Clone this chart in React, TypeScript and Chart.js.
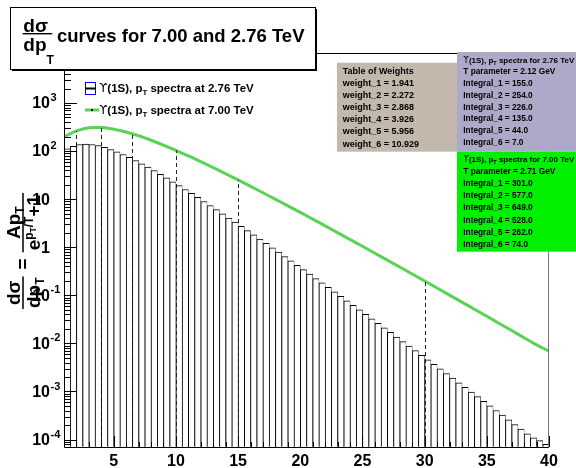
import { useEffect, useRef } from "react";
import { Chart, registerables } from "chart.js";

Chart.register(...registerables);

const FONT = '"Liberation Sans", Arial, Helvetica, sans-serif';
const SYM = '"DejaVu Sans", "Liberation Sans", sans-serif';

// Histogram binning for the 2.76 TeV spectrum (pT in GeV)
const binStart = 1;
const binWidth = 0.5;
const spectrum276 = [
  112, 126, 137, 140, 137, 130, 120, 108, 96.5, 84.8,
  73.8, 63.6, 54.4, 46.3, 39.1, 32.9, 27.6, 23.0, 19.1, 15.9,
  13.2, 10.9, 8.95, 7.36, 6.05, 4.96, 4.06, 3.32, 2.71, 2.21,
  1.81, 1.47, 1.2, 0.972, 0.789, 0.64, 0.519, 0.421, 0.341, 0.276,
  0.223, 0.181, 0.146, 0.118, 0.0951, 0.0767, 0.0619, 0.0499, 0.0402, 0.0324,
  0.0261, 0.021, 0.0169, 0.0136, 0.0109, 0.00878, 0.00706, 0.00567, 0.00455, 0.00366,
  0.00294, 0.00236, 0.00189, 0.00152, 0.00122, 0.000975, 0.000781, 0.000626, 0.000502, 0.000402,
  0.000322, 0.000258, 0.000206, 0.000165, 0.000132, 0.000108, 0.000095, 0.00008,
];

// Smooth 7.00 TeV curve
const pT7 = [
  1, 2, 3, 4, 5, 6, 7, 8, 9, 10, 11, 12, 13, 14, 15, 16, 17, 18, 19, 20,
  21, 22, 23, 24, 25, 26, 27, 28, 29, 30, 31, 32, 33, 34, 35, 36, 37, 38, 39, 40,
];
const spectrum7 = [
  198, 262, 305, 308, 285, 249, 208, 168, 133, 103,
  79.3, 60.1, 45.2, 33.8, 25.1, 18.5, 13.6, 9.96, 7.27, 5.3,
  3.85, 2.79, 2.01, 1.45, 1.05, 0.752, 0.54, 0.387, 0.277, 0.198,
  0.142, 0.101, 0.0721, 0.0514, 0.0366, 0.026, 0.0185, 0.0131, 0.00931, 0.0069,
];

// Integration ranges (dashed markers) and the curve height at each edge
const integralEdges = [2, 4, 6.5, 10, 15, 30];
const edgeHeights = [262, 308, 229, 103, 25.1, 0.198];

const weights = ["1.941", "2.272", "2.868", "3.926", "5.956", "10.929"];
const integrals276 = ["155.0", "254.0", "226.0", "135.0", "44.0", "7.0"];
const integrals7 = ["301.0", "577.0", "649.0", "528.0", "262.0", "74.0"];
const tParam276 = "2.12";
const tParam7 = "2.71";

const xMin = 1;
const xMax = 40;
const yMin = 7.08e-5;
const yMax = 1.096e4;
const xTickLabels = [5, 10, 15, 20, 25, 30, 35, 40];
const yDecades = [-4, -3, -2, -1, 0, 1, 2, 3];

const GREEN = "rgb(89,211,84)";

type Seg = { t: string; size: number; dy?: number; weight?: string; family?: string };

function fontOf(s: Seg) {
  return `${s.weight ?? "bold"} ${s.size}px ${s.family ?? FONT}`;
}

function segsWidth(ctx: CanvasRenderingContext2D, segs: Seg[]) {
  let w = 0;
  for (const s of segs) {
    ctx.font = fontOf(s);
    w += ctx.measureText(s.t).width;
  }
  return w;
}

function drawSegs(ctx: CanvasRenderingContext2D, segs: Seg[], x: number, y: number) {
  let cx = x;
  for (const s of segs) {
    ctx.font = fontOf(s);
    ctx.fillText(s.t, cx, y + (s.dy ?? 0));
    cx += ctx.measureText(s.t).width;
  }
  return cx - x;
}

function upsilonLine(size: number, tail: string): Seg[] {
  return [
    { t: "ϒ", size, weight: "normal", family: SYM },
    { t: "(1S), p", size },
    { t: "T", size: size * 0.68, dy: size * 0.3 },
    { t: tail, size },
  ];
}

const decorPlugin = {
  id: "decor",
  afterDatasetsDraw(chart: any) {
    const { ctx, chartArea: a } = chart;
    const xs = chart.scales.x;
    const ys = chart.scales.y;
    ctx.save();

    // dashed integration boundaries
    ctx.setLineDash([4, 3]);
    ctx.strokeStyle = "#222";
    ctx.lineWidth = 1;
    integralEdges.forEach((e, i) => {
      const px = Math.round(xs.getPixelForValue(e)) + 0.5;
      ctx.beginPath();
      ctx.moveTo(px, a.bottom);
      ctx.lineTo(px, ys.getPixelForValue(edgeHeights[i]));
      ctx.stroke();
    });
    ctx.setLineDash([]);

    // frame
    ctx.strokeStyle = "#000";
    ctx.beginPath();
    ctx.moveTo(a.left + 0.5, a.top + 0.5);
    ctx.lineTo(a.right, a.top + 0.5);
    ctx.moveTo(a.left + 0.5, a.top);
    ctx.lineTo(a.left + 0.5, a.bottom + 0.5);
    ctx.lineTo(a.right, a.bottom + 0.5);
    ctx.stroke();
    ctx.strokeStyle = "#777";
    ctx.beginPath();
    ctx.moveTo(a.right - 0.5, a.top);
    ctx.lineTo(a.right - 0.5, a.bottom + 0.5);
    ctx.stroke();

    // x ticks (pointing up)
    ctx.strokeStyle = "#000";
    ctx.beginPath();
    for (let v = Math.ceil(xMin); v <= xMax; v++) {
      const px = Math.round(xs.getPixelForValue(v)) + 0.5;
      const len = v % 5 === 0 ? 11 : 5;
      ctx.moveTo(px, a.bottom);
      ctx.lineTo(px, a.bottom - len);
    }
    ctx.stroke();

    // y ticks (pointing right), log minor ticks
    ctx.beginPath();
    for (let d = -5; d <= 4; d++) {
      for (let m = 1; m <= 9; m++) {
        const v = m * Math.pow(10, d);
        if (v < yMin || v > yMax) continue;
        const py = Math.round(ys.getPixelForValue(v)) + 0.5;
        const len = m === 1 ? 13 : 7;
        ctx.moveTo(a.left, py);
        ctx.lineTo(a.left + len, py);
      }
    }
    ctx.stroke();
    ctx.restore();
  },
  afterDraw(chart: any) {
    const { ctx, chartArea: a } = chart;
    const xs = chart.scales.x;
    const ys = chart.scales.y;
    ctx.save();
    ctx.fillStyle = "#000";

    // x tick labels
    ctx.textAlign = "center";
    ctx.textBaseline = "middle";
    ctx.font = `bold 16px ${FONT}`;
    xTickLabels.forEach((v) => {
      ctx.fillText(String(v), xs.getPixelForValue(v), a.bottom + 15);
    });

    // y tick labels with superscript exponents
    yDecades.forEach((d) => {
      const py = ys.getPixelForValue(Math.pow(10, d));
      const base = d === 0 ? "1" : "10";
      ctx.textBaseline = "middle";
      ctx.textAlign = "right";
      ctx.font = `bold 16px ${FONT}`;
      ctx.fillText(base, 50, py + 1);
      if (d !== 0 && d !== 1) {
        ctx.textAlign = "left";
        ctx.font = `bold 11px ${FONT}`;
        ctx.fillText(String(d), 50.5, py - 5);
      }
    });

    // y axis title: dσ/dpT = A pT / (e^{pT/T} + 1), rotated
    ctx.save();
    ctx.translate(23, 309);
    ctx.rotate(-Math.PI / 2);
    ctx.textAlign = "left";
    ctx.textBaseline = "alphabetic";
    const fs = 19;
    const num1: Seg[] = [{ t: "dσ", size: fs }];
    const den1: Seg[] = [
      { t: "dp", size: fs },
      { t: "T", size: 12, dy: 4 },
    ];
    const w1 = Math.max(segsWidth(ctx, num1), segsWidth(ctx, den1)) + 2;
    ctx.fillRect(0, -0.75, w1, 1.5);
    drawSegs(ctx, num1, (w1 - segsWidth(ctx, num1)) / 2, -3);
    drawSegs(ctx, den1, (w1 - segsWidth(ctx, den1)) / 2, 16.5);
    let u = w1 + 7;
    u += drawSegs(ctx, [{ t: "=", size: fs }], u, 6) + 6;
    const num2: Seg[] = [
      { t: "A", size: fs },
      { t: "p", size: fs },
      { t: "T", size: 12, dy: 4 },
    ];
    const den2: Seg[] = [
      { t: "e", size: fs },
      { t: "p", size: 12, dy: -7 },
      { t: "T", size: 8.5, dy: -4 },
      { t: "/T", size: 12, dy: -7 },
      { t: "+1", size: fs },
    ];
    const w2 = Math.max(segsWidth(ctx, num2), segsWidth(ctx, den2)) + 4;
    ctx.fillRect(u, -0.75, w2, 1.5);
    drawSegs(ctx, num2, u + (w2 - segsWidth(ctx, num2)) / 2, -3);
    drawSegs(ctx, den2, u + (w2 - segsWidth(ctx, den2)) / 2, 16.5);
    ctx.restore();

    // legend
    ctx.textAlign = "left";
    ctx.textBaseline = "alphabetic";
    ctx.fillStyle = "#fff";
    ctx.fillRect(85.5, 82.5, 10, 12);
    ctx.strokeStyle = "#0000ff";
    ctx.lineWidth = 1;
    ctx.strokeRect(85.5, 82.5, 10, 12);
    ctx.fillStyle = "#000";
    ctx.fillRect(85, 87.5, 11, 2);
    drawSegs(ctx, upsilonLine(11.5, " spectra at 2.76 TeV"), 99.3, 92);
    ctx.strokeStyle = GREEN;
    ctx.lineWidth = 3;
    ctx.beginPath();
    ctx.moveTo(85, 110);
    ctx.lineTo(99, 110);
    ctx.stroke();
    ctx.fillStyle = "#000";
    ctx.fillRect(91, 109, 2, 2);
    drawSegs(ctx, upsilonLine(11.5, " spectra at 7.00 TeV"), 99.3, 113.5);

    // title pave
    ctx.fillStyle = "#000";
    ctx.fillRect(12, 9, 305, 62);
    ctx.fillStyle = "#fff";
    ctx.fillRect(10.5, 7.5, 305, 62);
    ctx.strokeStyle = "#000";
    ctx.lineWidth = 1;
    ctx.strokeRect(10.5, 7.5, 305, 62);
    ctx.fillStyle = "#000";
    drawSegs(ctx, [{ t: "dσ", size: 19 }], 23.3, 32);
    ctx.fillRect(22.7, 33, 29.6, 1.4);
    drawSegs(
      ctx,
      [
        { t: "dp", size: 19 },
        { t: "T", size: 12, dy: 13 },
      ],
      23.3,
      51
    );
    drawSegs(ctx, [{ t: "curves for 7.00 and 2.76 TeV", size: 18.5 }], 57, 42);

    // table of weights
    ctx.fillStyle = "#c2b9ac";
    ctx.fillRect(337, 62.7, 121, 89);
    ctx.fillStyle = "#000";
    const wRows = ["Table of Weights", ...weights.map((w, i) => `weight_${i + 1} = ${w}`)];
    wRows.forEach((r, i) => {
      drawSegs(ctx, [{ t: r, size: 9 }], 342.7, 70.7 + i * 12.1 + 3.2);
    });

    // 2.76 TeV fit summary
    ctx.fillStyle = "#acaac8";
    ctx.fillRect(457, 52, 119, 99.7);
    ctx.fillStyle = "#000";
    drawSegs(ctx, upsilonLine(8, " spectra for 2.76 TeV"), 463.3, 59.5 + 3);
    const pRows = [`T parameter = ${tParam276} GeV`, ...integrals276.map((v, i) => `Integral_${i + 1} = ${v}`)];
    pRows.forEach((r, i) => {
      drawSegs(ctx, [{ t: r, size: 8.3 }], 463.3, 71.25 + i * 11.75 + 3);
    });

    // 7.00 TeV fit summary
    ctx.fillStyle = "#00f000";
    ctx.fillRect(457, 151.7, 119, 100);
    ctx.fillStyle = "#000";
    drawSegs(ctx, upsilonLine(8, " spectra for 7.00 TeV"), 463.3, 158.5 + 3);
    const gRows = [`T parameter = ${tParam7} GeV`, ...integrals7.map((v, i) => `Integral_${i + 1} = ${v}`)];
    gRows.forEach((r, i) => {
      drawSegs(ctx, [{ t: r, size: 8.3 }], 463.3, 170.7 + i * 12.2 + 3);
    });

    ctx.restore();
  },
};

export default function App() {
  const canvasRef = useRef<HTMLCanvasElement | null>(null);

  useEffect(() => {
    const canvas = canvasRef.current;
    if (!canvas) return;
    const chart = new Chart(canvas, {
      type: "bar",
      data: {
        datasets: [
          {
            type: "line",
            label: "ϒ(1S), pT spectra at 7.00 TeV",
            data: pT7.map((p, i) => ({ x: p, y: spectrum7[i] })),
            borderColor: GREEN,
            borderWidth: 3,
            pointRadius: 0,
            tension: 0.35,
            fill: false,
            order: 0,
          } as any,
          {
            type: "bar",
            label: "ϒ(1S), pT spectra at 2.76 TeV",
            data: spectrum276.map((v, i) => ({
              x: binStart + (i + 0.5) * binWidth,
              y: [yMin, v],
            })),
            backgroundColor: "#ffffff",
            borderColor: "#000000",
            borderWidth: { top: 1, right: 0.5, bottom: 0, left: 1 },
            borderSkipped: "start",
            barPercentage: 1,
            categoryPercentage: 1,
            order: 1,
          } as any,
        ],
      },
      options: {
        responsive: false,
        animation: false,
        events: [],
        devicePixelRatio: 1,
        layout: { padding: { left: 64, right: 27, top: 53, bottom: 21 } },
        plugins: {
          legend: { display: false },
          title: { display: false },
          tooltip: { enabled: false },
        },
        scales: {
          x: { type: "linear", min: xMin, max: xMax, offset: false, display: false },
          y: { type: "logarithmic", min: yMin, max: yMax, display: false },
        },
      },
      plugins: [decorPlugin],
    });
    return () => chart.destroy();
  }, []);

  return (
    <div style={{ position: "absolute", left: 0, top: 0, width: 576, height: 468, background: "#fff" }}>
      <canvas ref={canvasRef} width={576} height={468} style={{ display: "block" }} />
    </div>
  );
}
